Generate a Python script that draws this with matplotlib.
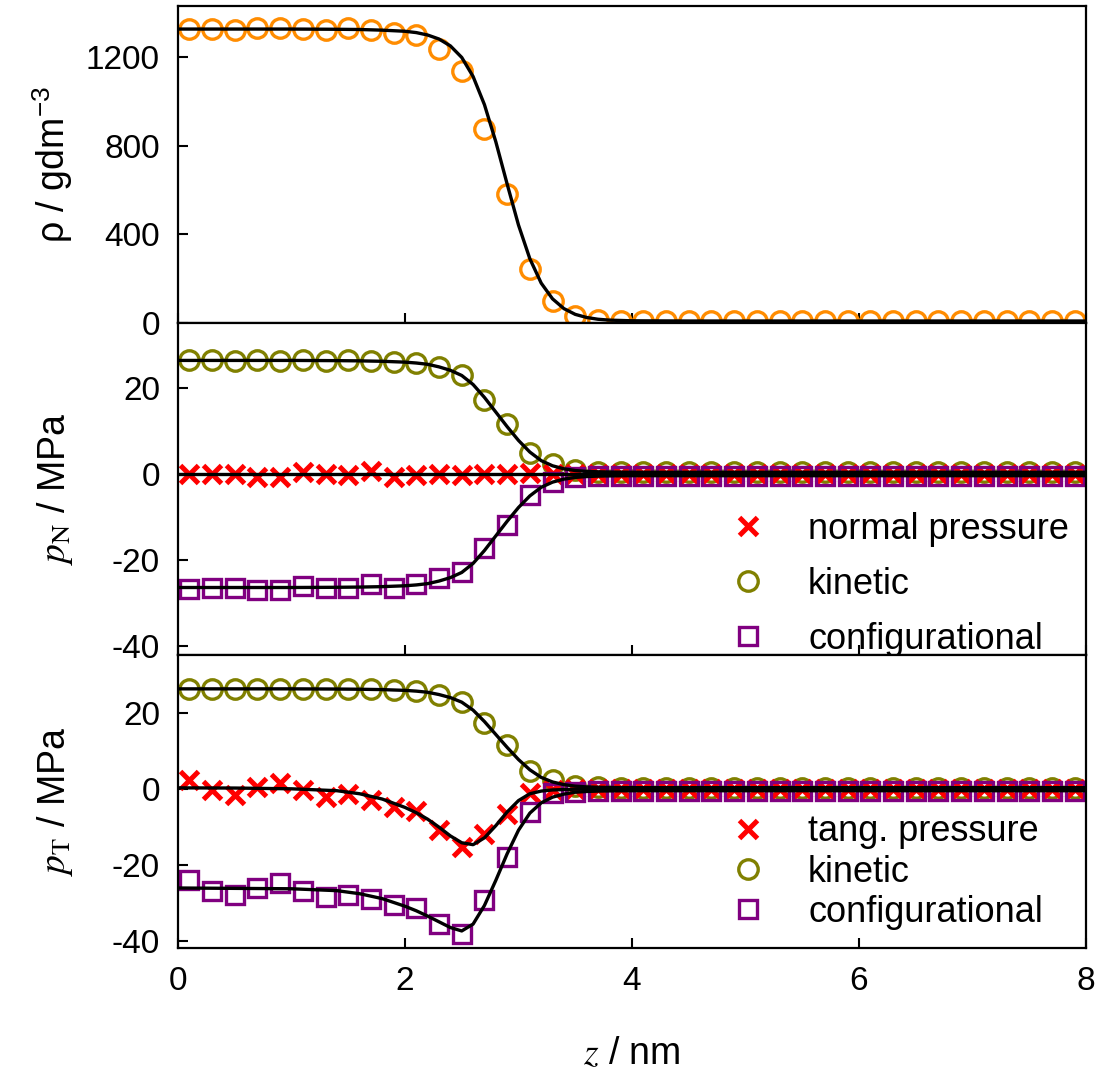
import matplotlib.pyplot as plt

plt.rcParams['font.family'] = ['Liberation Sans', 'DejaVu Sans']
plt.rcParams['mathtext.fontset'] = 'stix'
plt.rcParams['axes.unicode_minus'] = False

# bin centres, nm
z = [0.1, 0.3, 0.5, 0.7, 0.9, 1.1, 1.3, 1.5, 1.7, 1.9,
     2.1, 2.3, 2.5, 2.7, 2.9, 3.1, 3.3, 3.5, 3.7, 3.9,
     4.1, 4.3, 4.5, 4.7, 4.9, 5.1, 5.3, 5.5, 5.7, 5.9,
     6.1, 6.3, 6.5, 6.7, 6.9, 7.1, 7.3, 7.5, 7.7, 7.9]

# density profile, g/dm3
rho = [1327, 1327, 1323, 1330, 1330, 1327, 1320, 1330, 1323, 1309,
       1297, 1235, 1137, 873, 582, 243, 98, 32, 15, 10,
       9, 9, 9, 9, 9, 9, 9, 9, 9, 9,
       9, 9, 9, 9, 9, 9, 9, 9, 9, 9]

# kinetic part (same in both directions), MPa
p_kin = [26.4, 26.4, 26.3, 26.4, 26.3, 26.4, 26.3, 26.4, 26.3, 26.1,
         25.8, 24.8, 22.9, 17.3, 11.6, 4.9, 2.4, 0.9, 0.5, 0.4,
         0.4, 0.4, 0.4, 0.4, 0.4, 0.4, 0.4, 0.4, 0.4, 0.4,
         0.4, 0.4, 0.4, 0.4, 0.4, 0.4, 0.4, 0.4, 0.4, 0.4]

# normal pressure and its configurational part
p_N = [0.0, 0.1, -0.1, -0.7, -0.7, 0.4, -0.1, -0.3, 0.6, -0.6,
       -0.2, 0.1, -0.3, 0.0, 0.0, 0.2, 0.0, 0.0, 0.1, 0.0,
       0.0, 0.0, 0.0, 0.0, 0.0, 0.0, 0.0, 0.0, 0.0, 0.0,
       0.0, 0.0, 0.0, 0.0, 0.0, 0.0, 0.0, 0.0, 0.0, 0.0]
p_N_conf = [-26.7, -26.4, -26.4, -26.9, -26.9, -26.0, -26.4, -26.6, -25.6, -26.6,
            -25.7, -24.3, -22.8, -17.2, -11.8, -5.0, -1.9, -0.7, -0.5, -0.4,
            -0.4, -0.4, -0.4, -0.4, -0.4, -0.4, -0.4, -0.4, -0.4, -0.4,
            -0.4, -0.4, -0.4, -0.4, -0.4, -0.4, -0.4, -0.4, -0.4, -0.4]

# tangential pressure and its configurational part
p_T = [2.4, -0.3, -1.6, 0.6, 1.5, -0.3, -2.0, -1.3, -2.9, -4.6,
       -5.7, -10.8, -15.2, -11.7, -6.4, -1.0, -0.1, 0.0, 0.0, 0.0,
       0.0, 0.0, 0.0, 0.0, 0.0, 0.0, 0.0, 0.0, 0.0, 0.0,
       0.0, 0.0, 0.0, 0.0, 0.0, 0.0, 0.0, 0.0, 0.0, 0.0]
p_T_conf = [-24.0, -26.8, -27.9, -25.9, -24.8, -26.8, -28.3, -27.9, -28.8, -30.5,
            -31.2, -35.5, -38.0, -29.2, -17.8, -6.0, -1.1, -0.7, -0.4, -0.4,
            -0.4, -0.4, -0.4, -0.4, -0.4, -0.4, -0.4, -0.4, -0.4, -0.4,
            -0.4, -0.4, -0.4, -0.4, -0.4, -0.4, -0.4, -0.4, -0.4, -0.4]

# fitted curves
z_fit = [0.0, 0.5, 1.0, 1.4, 1.6, 1.8, 2.0, 2.1, 2.2, 2.3, 2.4, 2.5, 2.6, 2.7,
         2.8, 2.9, 3.0, 3.1, 3.2, 3.3, 3.4, 3.5, 3.6, 3.7, 3.8, 4.0, 4.5, 8.0]
rho_fit = [1326, 1326, 1326, 1325, 1324, 1321, 1316, 1310, 1299, 1281, 1250, 1198, 1112, 985,
           818, 627, 442, 290, 180, 109, 65, 39, 25, 17, 13, 10, 9, 9]
kin_fit = [26.4, 26.4, 26.4, 26.35, 26.3, 26.2, 26.0, 25.8, 25.5, 24.9, 24.1, 22.9, 20.8, 17.8,
           14.4, 11.0, 7.8, 5.1, 3.1, 1.9, 1.2, 0.8, 0.6, 0.5, 0.45, 0.4, 0.4, 0.4]
confN_fit = [-26.4, -26.4, -26.4, -26.35, -26.3, -26.2, -26.0, -25.8, -25.5, -24.9, -24.1, -22.9, -20.8, -17.8,
             -14.4, -11.0, -7.8, -5.1, -3.1, -1.9, -1.2, -0.8, -0.6, -0.5, -0.45, -0.4, -0.4, -0.4]
pT_fit = [0.35, 0.3, 0.1, -0.4, -1.2, -2.6, -4.8, -6.2, -7.9, -10.0, -12.3, -14.1, -14.6, -12.8,
          -9.6, -6.0, -3.0, -1.2, -0.5, -0.2, -0.1, 0.0, 0.0, 0.0, 0.0, 0.0, 0.0, 0.0]
confT_fit = [-26.0, -26.1, -26.2, -26.7, -27.5, -28.8, -30.8, -32.0, -33.4, -34.9, -36.4, -37.3, -35.5, -30.6,
             -24.0, -17.0, -10.8, -6.3, -3.6, -2.1, -1.3, -0.8, -0.6, -0.5, -0.45, -0.4, -0.4, -0.4]

orange = '#FF8C00'
olive = '#808000'
purple = '#800080'
red = '#FF0000'

circ = dict(marker='o', ms=14, mew=2.4, mfc='none', ls='none')
sq = dict(marker='s', ms=12.5, mew=2.4, mfc='none', ls='none', color=purple)
cross = dict(marker='x', ms=12.5, mew=3.6, ls='none', color=red)
fit = dict(color='black', lw=2.4, zorder=5)

fig = plt.figure(figsize=(11.02, 10.71), dpi=100)
ax1 = fig.add_axes([0.1615, 0.6984, 0.824, 0.2960])
ax2 = fig.add_axes([0.1615, 0.3884, 0.824, 0.3100])
ax3 = fig.add_axes([0.1615, 0.1148, 0.824, 0.2736])

# density
ax1.plot(z, rho, color=orange, **circ)
ax1.plot(z_fit, rho_fit, **fit)
ax1.set_ylim(0, 1430)
ax1.set_yticks([0, 400, 800, 1200])
ax1.set_ylabel('ρ / gdm$^{\\mathregular{-3}}$', fontsize=27, va='baseline')

# normal pressure
hk = ax2.plot(z, p_kin, color=olive, label='kinetic', **circ)[0]
hp = ax2.plot(z, p_N, label='normal pressure', **cross)[0]
hc = ax2.plot(z, p_N_conf, label='configurational', **sq)[0]
ax2.plot(z_fit, kin_fit, **fit)
ax2.plot(z_fit, confN_fit, **fit)
ax2.axhline(0, **fit)
ax2.set_ylim(-42.1, 35.1)
ax2.set_yticks([-40, -20, 0, 20])
ax2.set_ylabel(r'$p_{\mathrm{N}}$ / MPa', fontsize=27, va='baseline')
ax2.legend(handles=[hp, hk, hc], loc='center left', bbox_to_anchor=(0.608, 0.213),
           frameon=False, fontsize=26, handlelength=1.0, handletextpad=1.16,
           borderpad=0, borderaxespad=0, labelspacing=0.55, numpoints=1)

# tangential pressure
hk = ax3.plot(z, p_kin, color=olive, label='kinetic', **circ)[0]
hp = ax3.plot(z, p_T, label='tang. pressure', **cross)[0]
hc = ax3.plot(z, p_T_conf, label='configurational', **sq)[0]
ax3.plot(z_fit, kin_fit, **fit)
ax3.plot(z_fit, pT_fit, **fit)
ax3.plot(z_fit, confT_fit, **fit)
ax3.set_ylim(-41.8, 35.3)
ax3.set_yticks([-40, -20, 0, 20])
ax3.set_ylabel(r'$p_{\mathrm{T}}$ / MPa', fontsize=27, va='baseline')
ax3.set_xlabel(r'$z$ / nm', fontsize=27, labelpad=28)
ax3.legend(handles=[hp, hk, hc], loc='center left', bbox_to_anchor=(0.608, 0.259),
           frameon=False, fontsize=26, handlelength=1.0, handletextpad=1.16,
           borderpad=0, borderaxespad=0, labelspacing=0.15, numpoints=1)

for ax in (ax1, ax2, ax3):
    ax.set_xlim(0, 8)
    ax.set_xticks([0, 2, 4, 6, 8])
    ax.tick_params(direction='in', length=7, width=1.5, labelsize=24, pad=13,
                   top=False, right=False)
    for s in ax.spines.values():
        s.set_linewidth(1.6)
    ax.yaxis.set_label_coords(-0.124, 0.5)
ax1.tick_params(labelbottom=False)
ax2.tick_params(labelbottom=False)

fig.savefig('out.png', dpi=100)
